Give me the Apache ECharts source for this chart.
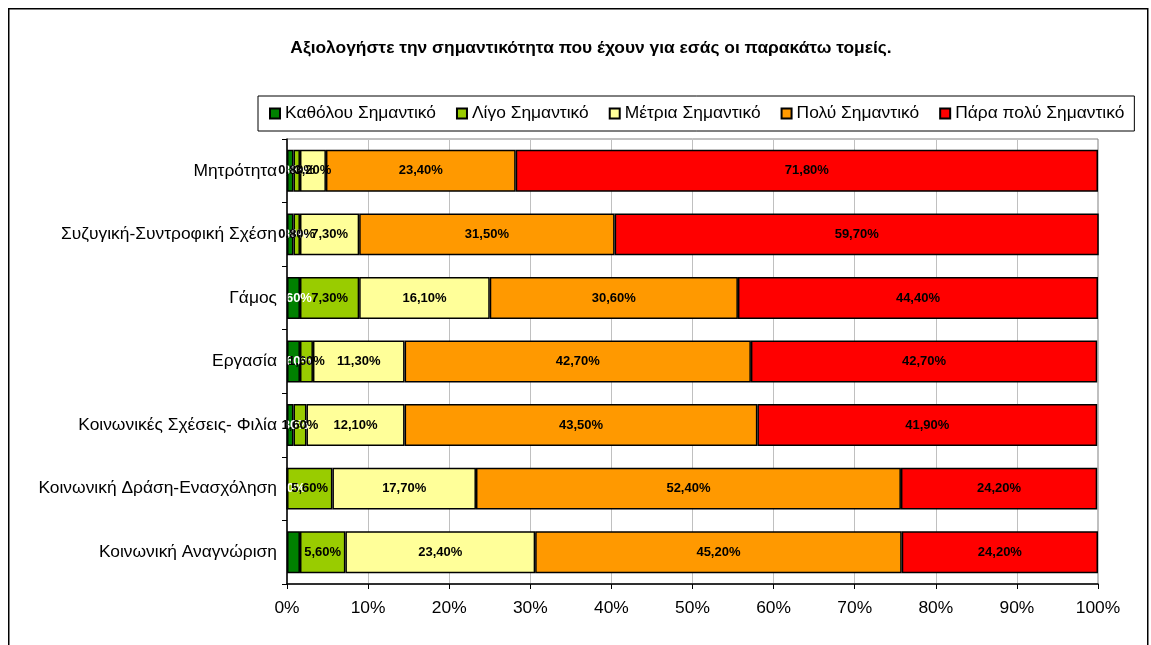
<!DOCTYPE html>
<html>
<head>
<meta charset="utf-8">
<script src="https://cdn.jsdelivr.net/npm/echarts@6/dist/echarts.min.js"></script>
<style>html,body{margin:0;padding:0;background:#fff}#c{width:1151px;height:645px}</style>
</head>
<body>
<div id="c"></div>
<script>
const categories = ['Μητρότητα','Συζυγική-Συντροφική Σχέση','Γάμος','Εργασία','Κοινωνικές Σχέσεις- Φιλία','Κοινωνική Δράση-Ενασχόληση','Κοινωνική Αναγνώριση'];
const seriesNames = ['Καθόλου Σημαντικό','Λίγο Σημαντικό','Μέτρια Σημαντικό','Πολύ Σημαντικό','Πάρα πολύ Σημαντικό'];
const katholou = [0.8, 0.8, 1.6, 1.6, 0.8, 0.0, 1.6];
const ligo     = [0.8, 0.8, 7.3, 1.6, 1.6, 5.6, 5.6];
const metria   = [3.2, 7.3, 16.1, 11.3, 12.1, 17.7, 23.4];
const poly     = [23.4, 31.5, 30.6, 42.7, 43.5, 52.4, 45.2];
const paraPoly = [71.8, 59.7, 44.4, 42.7, 41.9, 24.2, 24.2];
const xTicks = [0,10,20,30,40,50,60,70,80,90,100];
const colors = ['#008000','#99CC00','#FFFF99','#FF9900','#FF0000'];
const labelColors = ['#ffffff','#000000','#000000','#000000','#000000'];
const hiddenLabels = [[0,6]]; // [series, category] without a visible data label

const allValues = [katholou, ligo, metria, poly, paraPoly];
const fmt = v => v.toFixed(2).replace('.', ',') + '%';
const FONT = 'Liberation Sans, Arial, sans-serif';

const series = allValues.map((vals, si) => ({
  name: seriesNames[si],
  type: 'bar',
  stack: 'total',
  barWidth: '66%',
  itemStyle: { color: colors[si], borderColor: '#000', borderWidth: 1.5 },
  label: {
    show: true, position: 'inside',
    color: labelColors[si], fontWeight: 'bold', fontSize: 13,
    fontFamily: FONT,
    formatter: p => fmt(p.value)
  },
  data: vals.map((v, ci) => {
    const hide = hiddenLabels.some(h => h[0] === si && h[1] === ci);
    return hide ? { value: v, label: { show: false } } : v;
  })
}));

const chart = echarts.init(document.getElementById('c'), null, { renderer: 'canvas' });
chart.setOption({
  animation: false,
  backgroundColor: '#fff',
  textStyle: { fontFamily: FONT },
  graphic: [{
    type: 'rect', left: 8, top: 8, z: -1,
    shape: { width: 1139, height: 700 },
    style: { fill: '#fff', stroke: '#000', lineWidth: 1.5 }
  }],
  title: {
    text: 'Αξιολογήστε την σημαντικότητα που έχουν για εσάς οι παρακάτω τομείς.',
    left: 586, top: 35, textAlign: 'center',
    textStyle: { fontSize: 17.4, fontWeight: 'bold', color: '#000', fontFamily: FONT }
  },
  legend: {
    left: 258, top: 96,
    padding: [9, 10, 9, 11],
    borderColor: '#000', borderWidth: 1,
    itemWidth: 10, itemHeight: 10, itemGap: 20,
    icon: 'rect',
    textStyle: { fontSize: 17.4, color: '#000', padding: [0, 0, 0, 0] },
    data: seriesNames
  },
  grid: { left: 287, right: 53, top: 139, bottom: 61, show: true, borderColor: '#808080', borderWidth: 1 },
  xAxis: {
    type: 'value', min: 0, max: 100, interval: 10,
    axisLine: { show: true, lineStyle: { color: '#000', width: 1.5 } },
    axisTick: { show: true, length: 5, lineStyle: { color: '#000' } },
    axisLabel: { fontSize: 17.4, color: '#000', margin: 16, formatter: v => v + '%' },
    splitLine: { show: true, lineStyle: { color: '#c0c0c0', width: 1 } }
  },
  yAxis: {
    type: 'category', inverse: true, data: categories, z: 10,
    axisLine: { show: true, lineStyle: { color: '#000', width: 1.5 } },
    axisTick: { show: true, length: 5, inside: false, lineStyle: { color: '#000' } },
    axisLabel: { fontSize: 17.4, color: '#000', margin: 10 }
  },
  series: series
});
</script>
</body>
</html>
